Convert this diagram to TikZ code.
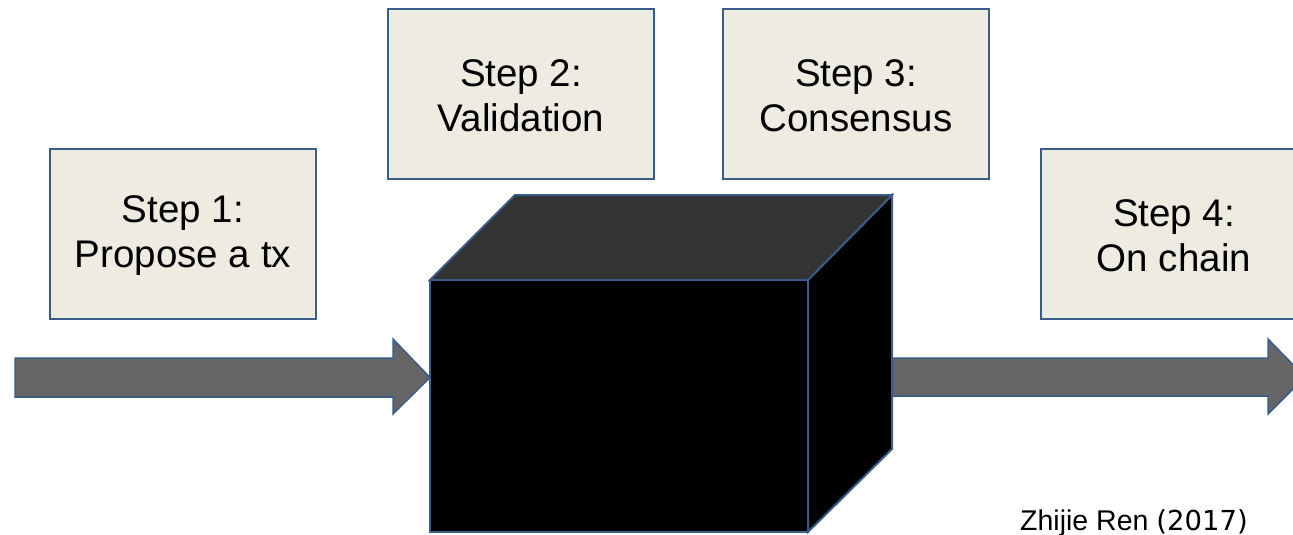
\documentclass[tikz,border=0pt]{standalone}
\usepackage{fontspec}
\setmainfont{Liberation Sans}
\newfontfamily\yearfont{DejaVu Sans}
\definecolor{boxfill}{HTML}{EEECE1}
\definecolor{edgeblue}{HTML}{385D8A}
\definecolor{arrowgray}{HTML}{666666}
\definecolor{cubetop}{HTML}{333333}
\begin{document}
\begin{tikzpicture}[x=1pt,y=-1pt,
  stepbox/.style={draw=edgeblue, line width=2pt, fill=boxfill,
    minimum width=266pt, minimum height=170pt, inner sep=0pt},
  steptext/.style={inner sep=0pt, align=center, font=\fontsize{38.5}{45}\selectfont},
  cubeface/.style={draw=edgeblue, line width=2pt, line join=miter},
  flowarrow/.style={draw=edgeblue, line width=1.5pt, fill=arrowgray, line join=miter}]
\useasboundingbox (0,0) rectangle (1293,535);
\clip (0,0) rectangle (1293,535);

% cube corners
\coordinate (fTL) at (430,280);
\coordinate (fTR) at (808,280);
\coordinate (fBR) at (808,532);
\coordinate (fBL) at (430,532);
\coordinate (bTL) at (515,195);
\coordinate (bTR) at (892,195);
\coordinate (bBR) at (892,449);

% incoming arrow
\coordinate (inTip) at (430,377.5);
\draw[flowarrow] (15,358) -- (393,358) -- (393,339) -- (inTip) -- (393,414) -- (393,397) -- (15,397) -- cycle;

% outgoing arrow
\coordinate (outTip) at (1305,377);
\draw[flowarrow] (891,358) -- (1268,358) -- (1268,339) -- (outTip) -- (1268,414) -- (1268,396) -- (891,396) -- cycle;

% the black box
\filldraw[cubeface, fill=black] (fTR) -- (bTR) -- (bBR) -- (fBR) -- cycle;
\filldraw[cubeface, fill=cubetop] (fTL) -- (bTL) -- (bTR) -- (fTR) -- cycle;
\filldraw[cubeface, fill=black] (fTL) -- (fTR) -- (fBR) -- (fBL) -- cycle;

% steps
\node[stepbox] (box1) at (183,234) {};
\node[stepbox] (box2) at (521,94) {};
\node[stepbox] (box3) at (856,94) {};
\node[stepbox] (box4) at (1174,234) {};
\node[steptext] (label1) at ([yshift=-2pt]box1.center) {Step 1:\\Propose a tx};
\node[steptext] (label2) at ([yshift=-2pt]box2.center) {Step 2:\\Validation};
\node[steptext] (label3) at ([yshift=-2pt]box3.center) {Step 3:\\Consensus};
\node[steptext] (label4) at ([yshift=-2pt]box4.center) {Step 4:\\On chain};

% credit
\node[anchor=base west, inner sep=0pt] (credit) at (1020,530)
  {\fontsize{28.5}{30}\selectfont Zhijie Ren {\yearfont\fontsize{27.5}{30}\selectfont (2017)}};
\end{tikzpicture}
\end{document}
